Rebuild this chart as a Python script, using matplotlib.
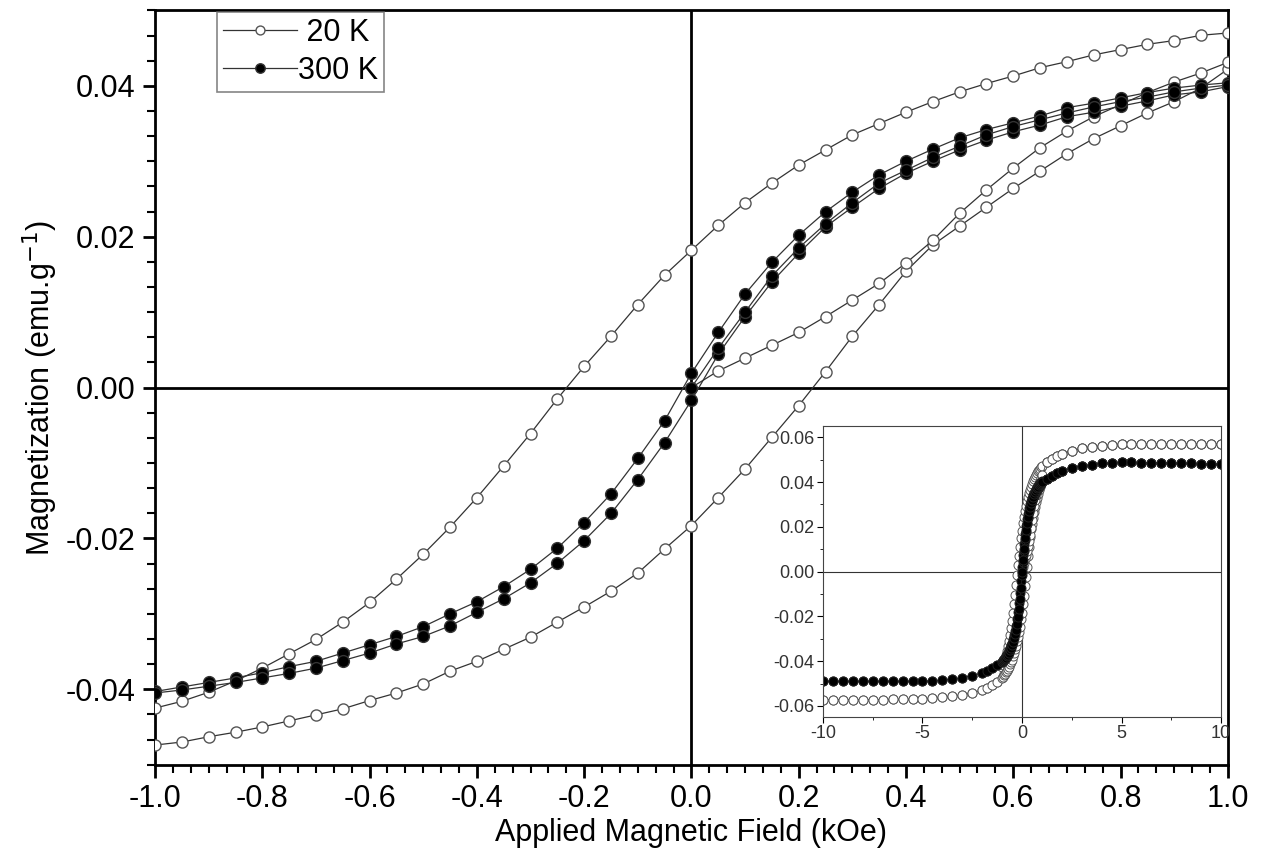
import numpy as np
import matplotlib
matplotlib.use("Agg")
import matplotlib.pyplot as plt
from matplotlib.ticker import MultipleLocator, AutoMinorLocator

# campo aplicado (kOe), paso 0.05
campo = np.round(np.arange(-1.0, 1.0001, 0.05), 2)
campo_virgen = np.round(np.arange(0.0, 1.0001, 0.05), 2)

# 20 K - rama descendente (ordenada de -1 a 1)
m20_desc = [-0.0425, -0.0416, -0.0404, -0.0389, -0.0372, -0.0353, -0.0334, -0.0311, -0.0285, -0.0254,
            -0.0221, -0.0185, -0.0146, -0.0104, -0.0061, -0.0015, 0.0028, 0.0068, 0.0110, 0.0149,
            0.0182, 0.0215, 0.0245, 0.0271, 0.0295, 0.0315, 0.0335, 0.0350, 0.0365, 0.0379,
            0.0392, 0.0403, 0.0413, 0.0424, 0.0432, 0.0441, 0.0448, 0.0455, 0.0460, 0.0467, 0.0470]
# 20 K - rama ascendente
m20_asc = [-0.0474, -0.0470, -0.0463, -0.0457, -0.0450, -0.0442, -0.0434, -0.0426, -0.0415, -0.0405,
           -0.0393, -0.0376, -0.0363, -0.0347, -0.0331, -0.0311, -0.0291, -0.0270, -0.0246, -0.0214,
           -0.0183, -0.0146, -0.0108, -0.0066, -0.0024, 0.0021, 0.0068, 0.0110, 0.0154, 0.0189,
           0.0214, 0.0239, 0.0264, 0.0287, 0.0310, 0.0330, 0.0347, 0.0364, 0.0379, 0.0397, 0.0422]
# 20 K - curva virgen (0 a 1)
m20_virgen = [0.0000, 0.0022, 0.0039, 0.0056, 0.0073, 0.0094, 0.0116, 0.0138, 0.0165, 0.0195,
              0.0231, 0.0262, 0.0291, 0.0318, 0.0340, 0.0359, 0.0375, 0.0391, 0.0405, 0.0417, 0.0431]

# 300 K
m300_desc = [-0.0403, -0.0397, -0.0391, -0.0385, -0.0378, -0.0370, -0.0363, -0.0352, -0.0341, -0.0330,
             -0.0317, -0.0300, -0.0284, -0.0264, -0.0241, -0.0213, -0.0179, -0.0141, -0.0094, -0.0044,
             0.0019, 0.0073, 0.0124, 0.0166, 0.0202, 0.0233, 0.0259, 0.0282, 0.0300, 0.0316,
             0.0331, 0.0342, 0.0351, 0.0360, 0.0371, 0.0377, 0.0384, 0.0391, 0.0397, 0.0401, 0.0404]
m300_asc = [-0.0405, -0.0401, -0.0396, -0.0391, -0.0385, -0.0379, -0.0372, -0.0362, -0.0352, -0.0340,
            -0.0330, -0.0316, -0.0298, -0.0280, -0.0259, -0.0233, -0.0203, -0.0167, -0.0122, -0.0073,
            -0.0017, 0.0044, 0.0094, 0.0140, 0.0178, 0.0213, 0.0239, 0.0264, 0.0284, 0.0300,
            0.0315, 0.0328, 0.0339, 0.0348, 0.0359, 0.0365, 0.0373, 0.0380, 0.0388, 0.0392, 0.0399]
m300_virgen = [0.0000, 0.0052, 0.0100, 0.0148, 0.0185, 0.0217, 0.0245, 0.0271, 0.0288, 0.0305,
               0.0320, 0.0335, 0.0346, 0.0355, 0.0364, 0.0372, 0.0379, 0.0385, 0.0392, 0.0397, 0.0401]

# campo alto para el inset (kOe)
campo_alto = [1.25, 1.5, 1.75, 2.0, 2.5, 3.0, 3.5, 4.0, 4.5, 5.0,
              5.5, 6.0, 6.5, 7.0, 7.5, 8.0, 8.5, 9.0, 9.5, 10.0]
m20_alto_pos = [0.0490, 0.0505, 0.0518, 0.0527, 0.0540, 0.0550, 0.0556, 0.0561, 0.0565, 0.0568,
                0.0569, 0.0570, 0.0570, 0.0571, 0.0571, 0.0571, 0.0571, 0.0571, 0.0571, 0.0571]
m20_alto_neg = [-0.0492, -0.0507, -0.0520, -0.0529, -0.0542, -0.0551, -0.0557, -0.0562, -0.0566, -0.0568,
                -0.0570, -0.0571, -0.0571, -0.0572, -0.0572, -0.0572, -0.0572, -0.0572, -0.0572, -0.0572]
m300_alto_pos = [0.0415, 0.0428, 0.0440, 0.0450, 0.0463, 0.0472, 0.0478, 0.0483, 0.0486, 0.0488,
                 0.0488, 0.0487, 0.0487, 0.0486, 0.0485, 0.0484, 0.0483, 0.0482, 0.0481, 0.0480]
m300_alto_neg = [-0.0416, -0.0430, -0.0442, -0.0452, -0.0465, -0.0474, -0.0480, -0.0485, -0.0488, -0.0490,
                 -0.0490, -0.0490, -0.0490, -0.0490, -0.0490, -0.0490, -0.0490, -0.0490, -0.0490, -0.0490]

plt.rcParams['font.family'] = ['Liberation Sans', 'DejaVu Sans']

fig = plt.figure(figsize=(12.71, 8.65), dpi=100)
ax = fig.add_axes([0.122, 0.116, 0.844, 0.872])

linea = dict(color='#333333', lw=0.9)
abierto = dict(marker='o', ms=8, mfc='white', mec='#555555', mew=1.0)
lleno = dict(marker='o', ms=8.5, mfc='black', mec='#333333', mew=1.0)

ax.axhline(0, color='black', lw=2, zorder=1)
ax.axvline(0, color='black', lw=2, zorder=1)

ax.plot(campo, m20_desc, **linea, **abierto, label=' 20 K', zorder=3)
ax.plot(campo, m20_asc, **linea, **abierto, zorder=3)
ax.plot(campo_virgen, m20_virgen, **linea, **abierto, zorder=3)
ax.plot(campo, m300_desc, **linea, **lleno, label='300 K', zorder=4)
ax.plot(campo, m300_asc, **linea, **lleno, zorder=4)
ax.plot(campo_virgen, m300_virgen, **linea, **lleno, zorder=4)

ax.set_xlim(-1.0, 1.0)
ax.set_ylim(-0.05, 0.05)
ax.xaxis.set_major_locator(MultipleLocator(0.2))
ax.yaxis.set_major_locator(MultipleLocator(0.02))
ax.xaxis.set_minor_locator(AutoMinorLocator(6))
ax.yaxis.set_minor_locator(AutoMinorLocator(6))
ax.xaxis.set_major_formatter(plt.FuncFormatter(lambda v, p: f'{v:.1f}'))
ax.yaxis.set_major_formatter(plt.FuncFormatter(lambda v, p: f'{v:.2f}'))
ax.tick_params(which='major', direction='out', length=9, width=2, labelsize=22, pad=5)
ax.tick_params(which='minor', direction='out', length=5.5, width=1.5)
for s in ax.spines.values():
    s.set_linewidth(2)
ax.set_xlabel('Applied Magnetic Field (kOe)', fontsize=22, labelpad=3)
ax.set_ylabel('Magnetization (emu.g$^{-1}$)', fontsize=22, labelpad=4)

leg = ax.legend(loc='upper left', bbox_to_anchor=(0.058, 0.998), fontsize=22, frameon=True,
                fancybox=False, edgecolor='#666666', handlelength=2.4, handletextpad=0.05,
                borderpad=0.2, labelspacing=0.25, markerscale=0.8, borderaxespad=0)
leg.get_frame().set_linewidth(1.2)

# inset con el ciclo completo
ins = fig.add_axes([0.6475, 0.171, 0.3132, 0.3364])
ins.axhline(0, color='#333333', lw=0.8)
ins.axvline(0, color='#333333', lw=0.8)

neg = [-v for v in campo_alto[::-1]]
x_lazo = neg + list(campo) + campo_alto
x_virgen = list(campo_virgen) + campo_alto

ab_i = dict(ls='-', lw=0.5, color='#555555', marker='o', ms=6.5, mfc='white', mec='#555555', mew=0.7)
ll_i = dict(ls='-', lw=0.5, color='#222222', marker='o', ms=6.5, mfc='black', mec='#222222', mew=0.7)
ins.plot(x_lazo, m20_alto_neg[::-1] + m20_desc + m20_alto_pos, **ab_i)
ins.plot(x_lazo, m20_alto_neg[::-1] + m20_asc + m20_alto_pos, **ab_i)
ins.plot(x_virgen, m20_virgen + m20_alto_pos, **ab_i)
ins.plot(x_lazo, m300_alto_neg[::-1] + m300_desc + m300_alto_pos, **ll_i)
ins.plot(x_lazo, m300_alto_neg[::-1] + m300_asc + m300_alto_pos, **ll_i)
ins.plot(x_virgen, m300_virgen + m300_alto_pos, **ll_i)

ins.set_xlim(-10, 10)
ins.set_ylim(-0.065, 0.065)
ins.xaxis.set_major_locator(MultipleLocator(5))
ins.yaxis.set_major_locator(MultipleLocator(0.02))
ins.xaxis.set_minor_locator(AutoMinorLocator(2))
ins.yaxis.set_minor_locator(AutoMinorLocator(2))
ins.xaxis.set_major_formatter(plt.FuncFormatter(lambda v, p: f'{v:.0f}'))
ins.yaxis.set_major_formatter(plt.FuncFormatter(lambda v, p: f'{v:.2f}'))
ins.tick_params(which='major', direction='out', length=4, width=0.8, labelsize=13, pad=2,
                labelcolor='#333333')
ins.tick_params(which='minor', direction='out', length=2, width=0.6)
for s in ins.spines.values():
    s.set_linewidth(0.8)
    s.set_color('#444444')

fig.savefig('out.png', dpi=100)
